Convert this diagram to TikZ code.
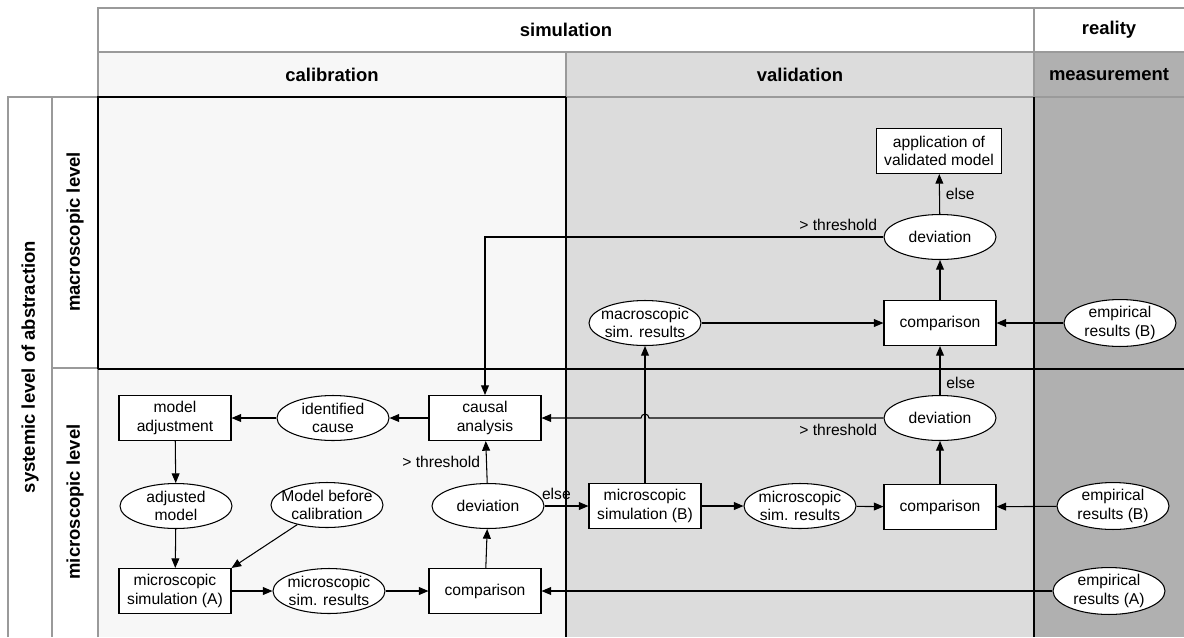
\documentclass[tikz,border=0pt]{standalone}
\usepackage{fontspec}
\setmainfont{Liberation Sans}
\usetikzlibrary{shapes.geometric,arrows.meta}
\definecolor{calfill}{HTML}{F7F7F7}
\definecolor{valfill}{HTML}{DCDCDC}
\definecolor{meafill}{HTML}{B0B0B0}
\definecolor{gridgray}{HTML}{9A9A9A}
\tikzset{
  txt/.style={font=\fontsize{8.9}{10.6}\selectfont},
  box/.style={txt, draw, fill=white, rectangle, minimum width=2.24cm, minimum height=0.9cm, align=center},
  oval/.style={txt, draw, fill=white, ellipse, minimum width=2.24cm, minimum height=0.9cm, inner xsep=-3.5pt, inner ysep=0pt, align=center},
  hdr/.style={font=\bfseries\fontsize{10.5}{12}\selectfont},
  flow/.style={-{Triangle[length=5.5pt,width=4.5pt]}},
  grid/.style={draw=gridgray, line width=1.2pt}
}
\begin{document}
\begin{tikzpicture}[x=0.02cm, y=-0.02cm, line width=0.6pt]
      \useasboundingbox (0,0) rectangle (1184,637);
      \fill[calfill] (98,52) rectangle (566,637);
      \fill[valfill] (566,52) rectangle (1034,637);
      \fill[meafill] (1034,52) rectangle (1184,637);
      \draw[grid] (98,637) -- (98,8) -- (1186,8);
      \draw[grid] (98,52) -- (1186,52);
      \draw[grid] (1034,8) -- (1034,97);
      \draw[grid] (566,52) -- (566,97);
      \draw[grid] (8,637) -- (8,97) -- (1186,97);
      \draw[grid] (52,97) -- (52,637);
      \draw[grid] (52,368) -- (98,368);
      \draw (98,369) -- (98,97) -- (566,97);
      \draw (98,369) -- (1184,369);
      \draw (566,97) -- (566,637);
      \draw (1034,97) -- (1034,637);
      \node[hdr] (sim) at (566,30) {simulation};
      \node[hdr] (real) at (1109,30) {reality};
      \node[hdr] (cal) at (332,75) {calibration};
      \node[hdr] (val) at (800,75) {validation};
      \node[hdr] (mea) at (1109,75) {measurement};
      \node[hdr, rotate=90] (sys) at (30,367) {systemic level of abstraction};
      \node[hdr, rotate=90] (mac) at (75,232) {macroscopic level};
      \node[hdr, rotate=90] (mic) at (75,502) {microscopic level};
      \node[box] (ma) at (175,418) {model\\adjustment};
      \node[oval] (ic) at (333,418) {identified\\cause};
      \node[box] (ca) at (485,418) {causal\\analysis};
      \node[oval] (am) at (176,506) {adjusted\\model};
      \node[oval] (mb) at (327,505) {Model before\\calibration};
      \node[oval] (dc) at (488,506) {deviation};
      \node[box] (sa) at (175,591) {microscopic\\simulation (A)};
      \node[oval] (ra) at (329,591) {microscopic\\sim. results};
      \node[box] (cc) at (485,591) {comparison};
      \node[box] (sb) at (645,506) {microscopic\\simulation (B)};
      \node[oval] (rb) at (800,506) {microscopic\\sim. results};
      \node[box] (cv) at (940,507) {comparison};
      \node[oval] (ebm) at (1113,506) {empirical\\results (B)};
      \node[oval] (dv) at (940,418) {deviation};
      \node[oval] (ea) at (1109,591) {empirical\\results (A)};
      \node[oval] (rm) at (645,323) {macroscopic\\sim. results};
      \node[box] (cm) at (940,323) {comparison};
      \node[oval] (ebt) at (1120,323) {empirical\\results (B)};
      \node[oval] (dm) at (940,237) {deviation};
      \node[box, minimum width=2.5cm] (ap) at (939,151) {application of\\validated model};
      \draw[flow] (ca) -- (ic);
      \draw[flow] (ic) -- (ma);
      \draw[flow] (ma) -- (am);
      \draw[flow] (am) -- (sa);
      \draw[flow] (mb) -- (sa.north east);
      \draw[flow] (sa) -- (ra);
      \draw[flow] (ra) -- (cc);
      \draw[flow] (cc) -- (dc);
      \draw[flow] (dc) -- node[txt, left] {> threshold} (ca);
      \draw[flow] (dc) -- node[txt, above, pos=0.27] {else} (sb);
      \draw[flow] (sb) -- (rb);
      \draw[flow] (rb) -- (cv);
      \draw[flow] (ebm) -- (cv);
      \draw[flow] (cv) -- (dv);
      \draw[flow] (dv.west) node[txt, below left] {> threshold} -- ([xshift=0.08cm]sb.north |- dv.west) arc[start angle=0, end angle=180, radius=0.08cm] -- (ca.east);
      \draw[flow] (dv) -- node[txt, right, pos=0.25] {else} (cm);
      \draw[flow] (sb) -- (rm);
      \draw[flow] (rm) -- (cm);
      \draw[flow] (ebt) -- (cm);
      \draw[flow] (cm) -- (dm);
      \draw[flow] (dm) -- node[txt, right] {else} (ap);
      \draw[flow] (dm.west) node[txt, above left] {> threshold} -- (ca.north |- dm.west) -- (ca.north);
      \draw[flow] (ea) -- (cc);
    \end{tikzpicture}
\end{document}
